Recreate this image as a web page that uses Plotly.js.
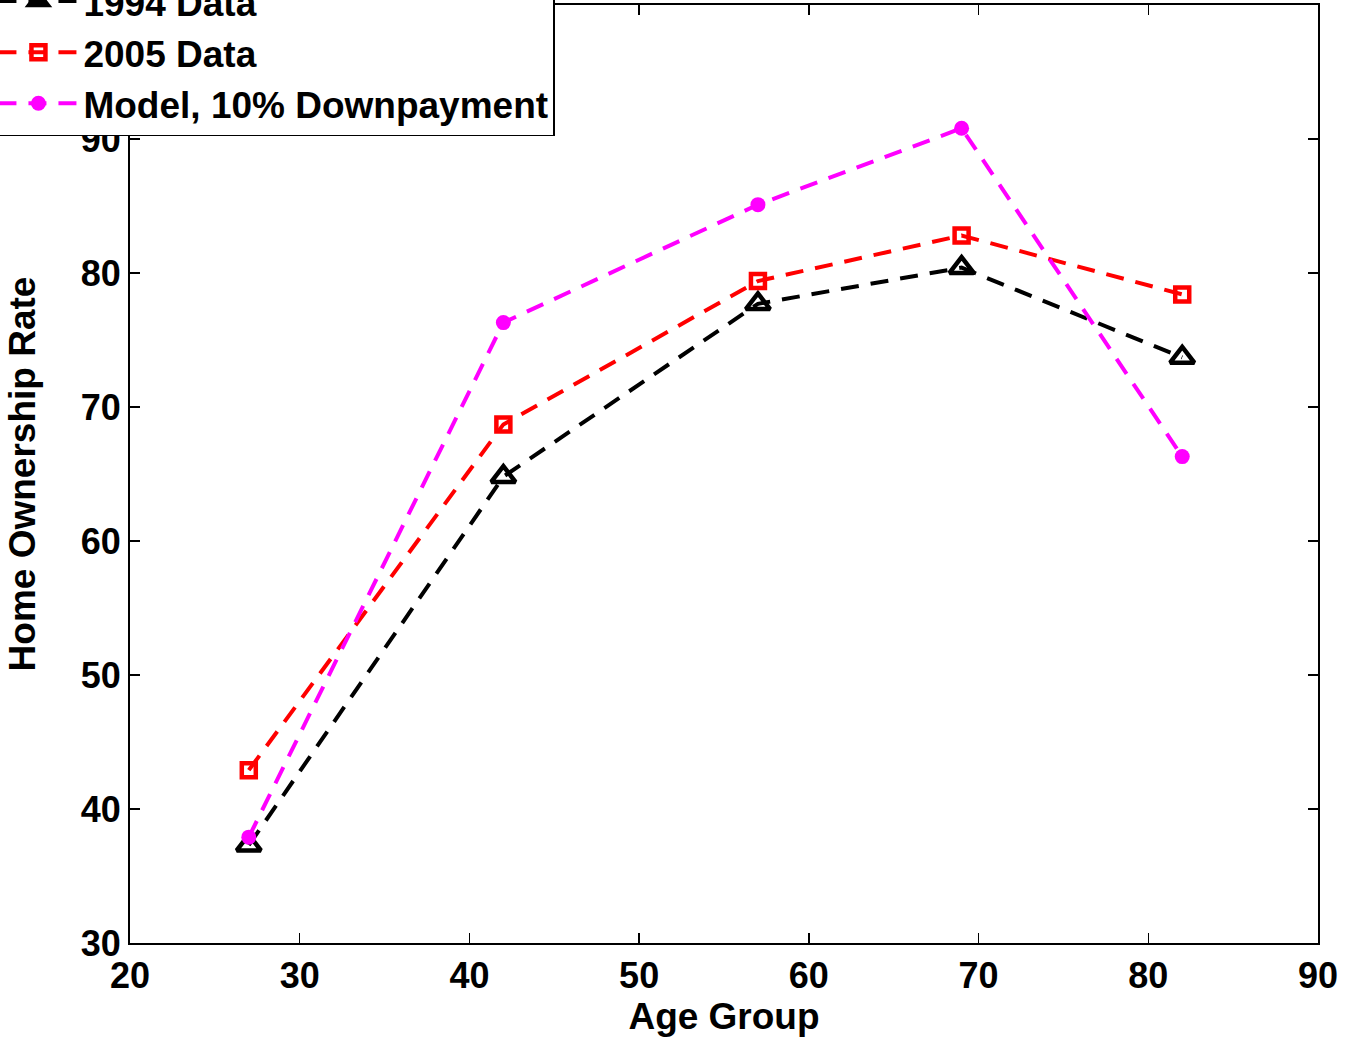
<!DOCTYPE html>
<html>
<head>
<meta charset="utf-8">
<script src="https://cdn.plot.ly/plotly-3.0.1.min.js"></script>
<style>html,body{margin:0;padding:0;background:#fff;}#chart{width:1355px;height:1040px;}</style>
</head>
<body>
<div id="chart"></div>
<script>
const ageGroups = [27, 42, 57, 69, 82];
const data1994 = [37.3, 64.8, 77.7, 80.4, 73.7];
const data2005 = [42.9, 68.7, 79.4, 82.8, 78.4];
const modelDown10 = [37.9, 76.3, 85.1, 90.8, 66.3];
const seriesNames = ["1994 Data", "2005 Data", "Model, 10% Downpayment"];

const fontFam = '"Liberation Sans", Arial, Helvetica, sans-serif';
const dash = "18px,12px";

const traces = [
  {x: ageGroups, y: data1994, name: seriesNames[0], type: "scatter", mode: "lines+markers",
   line: {color: "#000000", width: 4, dash: dash},
   marker: {symbol: "triangle-up-open", size: 21, color: "#000000", line: {width: 4.5, color: "#000000"}}},
  {x: ageGroups, y: data2005, name: seriesNames[1], type: "scatter", mode: "lines+markers",
   line: {color: "#ff0000", width: 4, dash: dash},
   marker: {symbol: "square-open", size: 14, color: "#ff0000", line: {width: 4.5, color: "#ff0000"}}},
  {x: ageGroups, y: modelDown10, name: seriesNames[2], type: "scatter", mode: "lines+markers",
   line: {color: "#ff00ff", width: 4, dash: dash},
   marker: {symbol: "circle", size: 15, color: "#ff00ff"}}
];

const axisCommon = {
  showgrid: false, zeroline: false, showline: true, mirror: "ticks",
  linecolor: "#000", linewidth: 2, ticks: "inside", ticklen: 10, tickwidth: 1.5, tickcolor: "#000",
  tickfont: {family: fontFam, size: 36, color: "#000", weight: "bold"}
};

const layout = {
  width: 1355, height: 1040,
  margin: {l: 130, r: 37, t: 5, b: 97, autoexpand: false},
  paper_bgcolor: "#fff", plot_bgcolor: "#fff",
  font: {family: fontFam, color: "#000", weight: "bold"},
  xaxis: Object.assign({}, axisCommon, {
    range: [20, 90], dtick: 10, tick0: 20,
    title: {text: "Age Group", font: {family: fontFam, size: 37, color: "#000", weight: "bold"}, standoff: 2}
  }),
  yaxis: Object.assign({}, axisCommon, {
    range: [30, 100], tickvals: [30, 40, 50, 60, 70, 80, 90],
    title: {text: "Home Ownership Rate", font: {family: fontFam, size: 37, color: "#000", weight: "bold"}, standoff: 34}
  }),
  showlegend: true,
  legend: {
    x: 0.3577, xanchor: "right", y: 0.8603, yanchor: "bottom",
    bgcolor: "#fff", bordercolor: "#000", borderwidth: 1.5,
    font: {family: fontFam, size: 37, color: "#000", weight: "bold"},
    tracegroupgap: 0, itemwidth: 80
  }
};

Plotly.newPlot("chart", traces, layout, {displayModeBar: false, staticPlot: true});
</script>
</body>
</html>
